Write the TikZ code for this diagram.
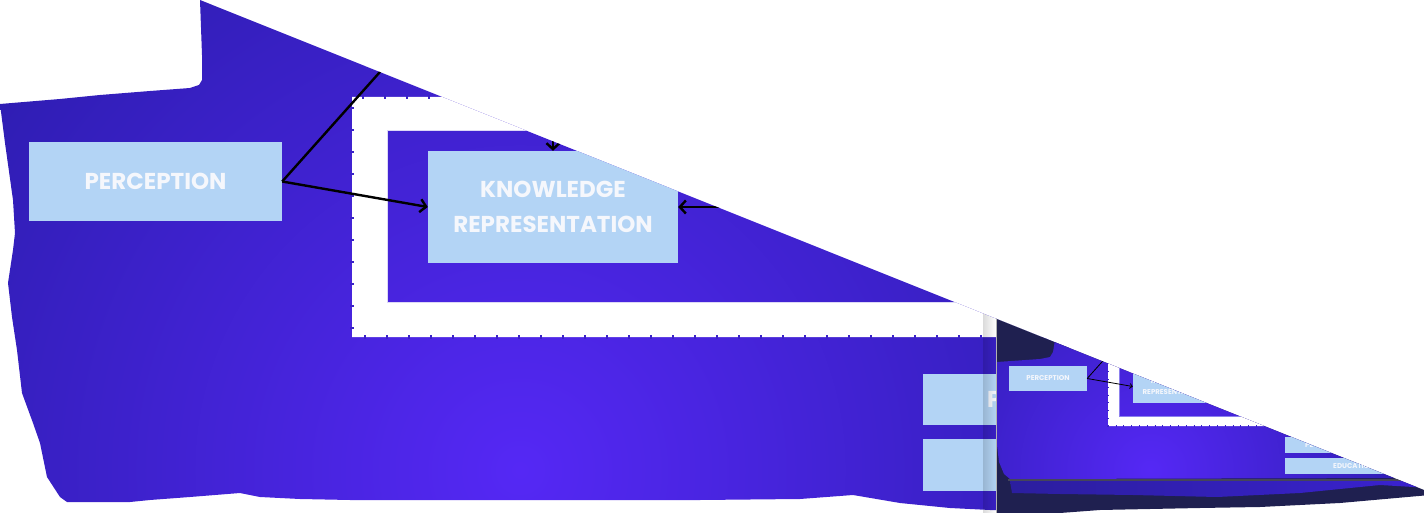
\documentclass[tikz,border=0pt]{standalone}
\usepackage{fontspec}
\setmainfont{Poppins}
\usetikzlibrary{arrows.meta,fadings}
\definecolor{boxblue}{HTML}{B3D4F5}
\definecolor{purpD}{HTML}{2E1DB2}
\definecolor{purpB}{HTML}{5528F5}
\definecolor{purpR}{HTML}{3A22D0}
\definecolor{navy}{HTML}{1F2050}
\definecolor{tickc}{HTML}{3A22C8}
\definecolor{lav}{HTML}{DCD8F6}
\definecolor{lavd}{HTML}{8C80EE}
\definecolor{txtw}{HTML}{F5F7FC}
\definecolor{grayline}{HTML}{45455A}
\begin{document}
\begin{tikzpicture}[x=1pt,y=-1pt,
  bigbox/.style={fill=boxblue, text=txtw, inner sep=0pt, font=\fontsize{23}{35}\selectfont\bfseries},
  smallbox/.style={fill=boxblue, text=txtw, inner sep=0pt, font=\fontsize{7}{11}\selectfont\bfseries},
  conn/.style={line width=2.4pt, black},
  arr/.style={-{Straight Barb[length=6pt,width=13pt]}},
  tconn/.style={line width=0.8pt, black},
  tarr/.style={-{Straight Barb[length=2.5pt,width=5pt]}}]
\useasboundingbox (0,0) rectangle (1424,513);
\begin{scope}
\clip (200,0) -- (1424,490) -- (1424,513) -- (0,513) -- (0,0) -- cycle;
% big torn background
\begin{scope}
\clip (200,-60) -- (1070,-60) -- (1070,512) -- (990,510) -- (950,508) -- (900,503) -- (853,495) -- (800,499) -- (700,500) -- (480,500) -- (350,500) -- (300,499) -- (260,497) -- (240,493) -- (190,497) -- (150,500) -- (130,502) -- (67,502) -- (60,497) -- (47,477) -- (40,443) -- (33,423) -- (22,393) -- (17,350) -- (12,317) -- (8,283) -- (13,250) -- (15,233) -- (13,200) -- (5,143) -- (0,104) -- (60,99) -- (100,95) -- (150,91) -- (190,88) -- (199,85) -- (202,80) -- (202,55) -- (200,0) -- cycle;
\shade[inner color=purpB, outer color=purpD] (520,470) circle (650);
\end{scope}
% white frame
\fill[white, even odd rule] (352,97) rectangle (1070,337) (387,130) rectangle (1035,302);
\draw[tickc, line width=4pt, dash pattern=on 2pt off 20pt] (1070,337) -- (352,337) -- (352,97) -- (1070,97);
\draw[lav, line width=0.8pt] (1035,130) -- (387,130) -- (387,302) -- (1035,302);
% nodes
\node[bigbox, minimum width=253pt, minimum height=79pt] (perc) at (155.5,181.5) {PERCEPTION};
\node[bigbox, minimum width=250pt, minimum height=112pt, align=center] (kr) at (553,207) {KNOWLEDGE\\REPRESENTATION};
\node[bigbox, anchor=north west, minimum height=51pt, inner xsep=64pt, text width=32pt, align=left] (rp) at (923,374) {P};
\node[bigbox, anchor=north west, minimum height=52pt, minimum width=160pt] (re) at (923,439) {};
% connectors
\coordinate (up1) at (429,17);
\coordinate (kin1) at (553,60);
\coordinate (kin2) at (800,207);
\draw[conn] (perc.east) -- (up1);
\draw[conn, arr] (perc.east) -- (kr.west);
\draw[conn, arr] (kin1) -- (kr.north);
\draw[conn, arr] (kin2) -- (kr.east);
% thumbnail shadow
\fill[black, path fading=east, fill opacity=0.14] (983,300) rectangle (996,513);
% thumbnail background
\fill[navy] (996,300) -- (1430,300) -- (1430,495) -- (1340,503) -- (1260,507) -- (1200,508) -- (1100,510) -- (1060,513) -- (996,514) -- cycle;
\draw[gray!60, line width=0.8pt] (996.4,300) -- (996.4,513);
\begin{scope}
\clip (1055,300) -- (1430,300) -- (1430,478) -- (1010,479) -- (1004,474) -- (999,462) -- (997,445) -- (997,362) -- (1040,359) -- (1050,357) -- (1053,352) -- (1055,340) -- cycle;
\shade[inner color=purpB, outer color=purpD] (1150,470) circle (260);
\end{scope}
\fill[grayline] (1008,478.8) rectangle (1430,481.2);
\shade[left color=purpD!80!navy, middle color=purpB, right color=purpR] (1010,481.2) -- (1430,481.2) -- (1430,488) -- (1380,485) -- (1350,488) -- (1300,493) -- (1217,497) -- (1133,495) -- (1060,494) -- (1012,493) -- cycle;
% thumbnail frame
\fill[white, even odd rule] (1108,330) rectangle (1440,426) (1119,340) rectangle (1430,416);
\draw[lavd, line width=0.8pt] (1119,340) -- (1119,416) -- (1430,416);
\draw[tickc, line width=1.5pt, dash pattern=on 0.8pt off 7pt] (1108,340) -- (1108,426) -- (1430,426);
% thumbnail nodes
\node[smallbox, minimum width=78pt, minimum height=25pt] (tperc) at (1048,378.5) {PERCEPTION};
\node[smallbox, minimum width=80pt, minimum height=33pt, align=center] (tkr) at (1173,386.5) {KNOWLEDGE\\REPRESENTATION};
\node[smallbox, anchor=north west, minimum height=16pt, inner xsep=20pt, text width=70pt, align=left] (tp) at (1285,437) {PE};
\node[smallbox, anchor=north west, minimum height=16pt, inner xsep=48pt, text width=40pt, align=left] (te) at (1285,458) {EDUCATION};
\coordinate (tup) at (1117,345);
\draw[tconn] (tperc.east) -- (tup);
\draw[tconn, tarr] (tperc.east) -- (tkr.west);
\end{scope}
\end{tikzpicture}
\end{document}
